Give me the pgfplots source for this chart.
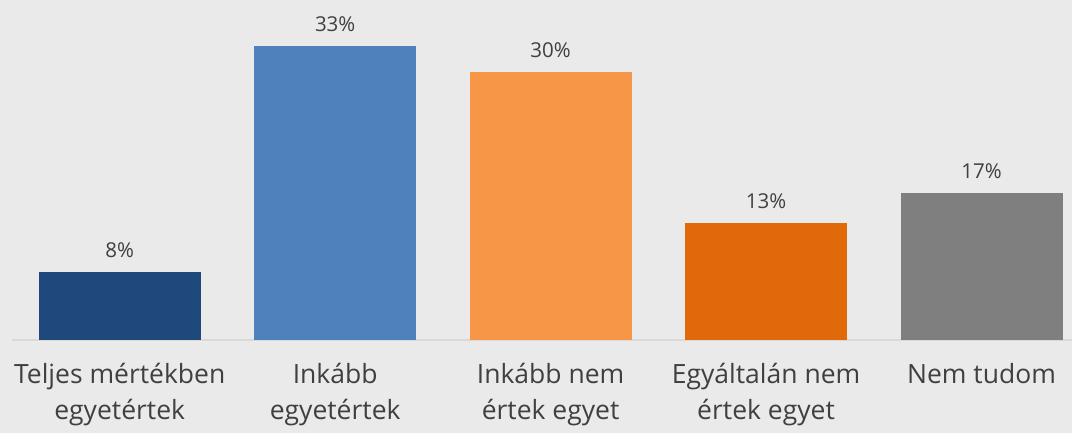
\documentclass[border=0pt]{standalone}
\usepackage{pgfplots}
\pgfplotsset{compat=1.18}
\usepackage{fontspec}
\setmainfont{Open Sans}
\usetikzlibrary{backgrounds,calc}
\definecolor{bg}{HTML}{EAEAEA}
\definecolor{txt}{HTML}{404040}
\definecolor{c1}{HTML}{1F497D}
\definecolor{c2}{HTML}{4F81BD}
\definecolor{c3}{HTML}{F79646}
\definecolor{c4}{HTML}{E0690A}
\definecolor{c5}{HTML}{7F7F7F}
\begin{document}
\begin{tikzpicture}[x=1bp,y=1bp]
\begin{axis}[
  name=ax,
  scale only axis,
  width=1060bp, height=340bp,
  xmin=-0.5, xmax=4.42,
  ymin=0, ymax=38.2,
  axis y line=none,
  axis x line*=bottom,
  x axis line style={draw=black!15, line width=1.2bp, -},
  xtick={0,1,2,3,4},
  xticklabels={{Teljes mértékben\\egyetértek},{Inkább\\egyetértek},{Inkább nem\\értek egyet},{Egyáltalán nem\\értek egyet},{Nem tudom}},
  xticklabel style={align=center, font=\fontsize{26.5bp}{36bp}\selectfont, text=txt, anchor=north, yshift=-20bp},
  major tick length=0pt,
  /pgf/number format/assume math mode=true,
  ybar, bar width=162bp, bar shift=0pt,
  point meta=explicit,
  nodes near coords={\pgfmathprintnumber{\pgfplotspointmeta}\%},
  nodes near coords style={font=\fontsize{20.5bp}{24bp}\selectfont, text=txt, anchor=south, inner sep=0pt, yshift=14bp},
  every axis plot/.append style={draw=none},
]
\addplot[fill=c1] coordinates {(0,7.6) [8]};
\addplot[fill=c2] coordinates {(1,33.0) [33]};
\addplot[fill=c3] coordinates {(2,30.1) [30]};
\addplot[fill=c4] coordinates {(3,13.2) [13]};
\addplot[fill=c5] coordinates {(4,16.5) [17]};
\end{axis}
\begin{scope}[on background layer]
\fill[bg] ($(ax.south west)+(-12bp,-93bp)$) rectangle (ax.north east);
\end{scope}
\pgfresetboundingbox
\path[use as bounding box] ($(ax.south west)+(-12bp,-93bp)$) rectangle (ax.north east);
\end{tikzpicture}
\end{document}
